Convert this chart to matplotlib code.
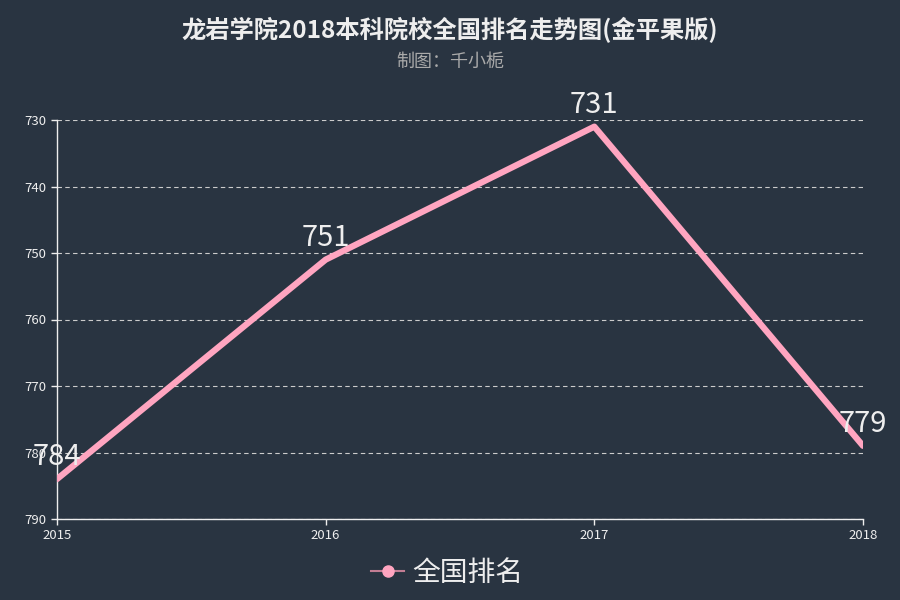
import matplotlib
matplotlib.use("Agg")
import matplotlib.pyplot as plt
from matplotlib.lines import Line2D

plt.rcParams['font.family'] = ['Noto Sans CJK SC', 'DejaVu Sans']

years = ['2015', '2016', '2017', '2018']
ranks = [784, 751, 731, 779]
series_name = '全国排名'
title = '龙岩学院2018本科院校全国排名走势图(金平果版)'
subtitle = '制图：千小栀'

bg = '#293441'
pink = '#ffa5c0'
fg = '#eeeeee'

fig = plt.figure(figsize=(9, 6), dpi=100, facecolor=bg)
ax = fig.add_axes([0.0633, 0.135, 0.8956, 0.665], facecolor=bg)

x = list(range(len(years)))
ax.plot(x, ranks, color=pink, linewidth=4.5, solid_capstyle='round', zorder=3)
for xi, v in zip(x, ranks):
    ax.annotate(str(v), (xi, v), xytext=(0, 5), textcoords='offset points',
                ha='center', va='bottom', fontsize=21, color=fg, zorder=4)

ax.set_xlim(0, 3)
ax.set_ylim(790, 730)
ax.set_xticks(x)
ax.set_xticklabels(years)
ax.set_yticks([730, 740, 750, 760, 770, 780, 790])
ax.tick_params(colors=fg, labelsize=9.5, length=4, width=1)
ax.grid(axis='y', color='#cccccc', linestyle=(0, (4, 3)), linewidth=0.8)
for s in ['top', 'right']:
    ax.spines[s].set_visible(False)
for s in ['left', 'bottom']:
    ax.spines[s].set_color(fg)
    ax.spines[s].set_linewidth(1)

fig.text(0.5, 0.95, title, ha='center', va='center', fontsize=17.5,
         fontweight='bold', color=fg)
fig.text(0.5, 0.897, subtitle, ha='center', va='center', fontsize=13,
         color='#aaaaaa')

handle = Line2D([], [], color='#c27d93', linewidth=1.5, marker='o',
                markersize=8, markerfacecolor=pink, markeredgecolor=pink)
fig.legend([handle], [series_name], loc='center', bbox_to_anchor=(0.497, 0.045),
           frameon=False, fontsize=20, labelcolor=fg, handlelength=1.2,
           handletextpad=0.3)

fig.savefig('out.png', dpi=100, facecolor=bg)
